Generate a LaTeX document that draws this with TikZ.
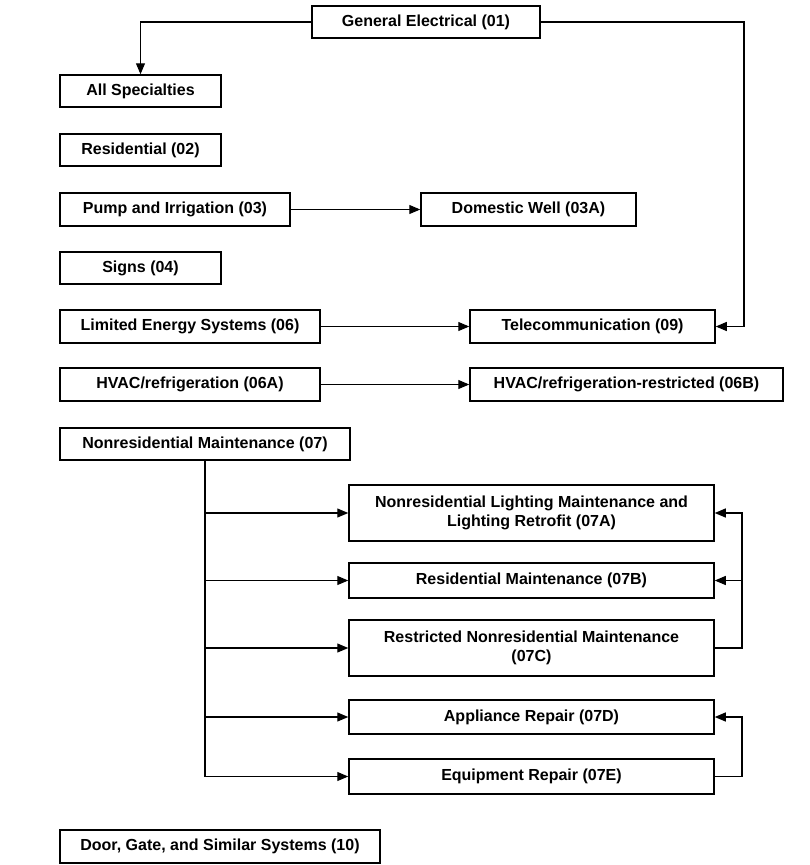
\documentclass[tikz,border=0pt]{standalone}
\usepackage{fontspec}
\setmainfont{Liberation Sans}
\usetikzlibrary{arrows.meta}
\begin{document}
\begin{tikzpicture}[x=1pt,y=-1pt,
  box/.style={draw=black, line width=1.5pt, rectangle, inner sep=0pt, align=center,
    font=\fontsize{16}{19.5}\selectfont\bfseries},
  arr/.style={draw=black, line width=1.1pt, -{Triangle[length=11pt,width=9pt]}},
  ln/.style={draw=black, line width=1.1pt}]
\useasboundingbox (0,0) rectangle (809,865);
\node[box, minimum width=228pt, minimum height=32pt] (ge) at (426,22) {General Electrical (01)};
\node[box, minimum width=161pt, minimum height=32pt] (all) at (140.5,91) {All Specialties};
\node[box, minimum width=161pt, minimum height=32pt] (res) at (140.5,150) {Residential (02)};
\node[box, minimum width=230pt, minimum height=33pt] (pump) at (175,209.5) {Pump and Irrigation (03)};
\node[box, minimum width=215pt, minimum height=33pt] (well) at (528.5,209.5) {Domestic Well (03A)};
\node[box, minimum width=161pt, minimum height=32pt] (signs) at (140.5,268) {Signs (04)};
\node[box, minimum width=260pt, minimum height=33pt] (les) at (190,326.5) {Limited Energy Systems (06)};
\node[box, minimum width=245pt, minimum height=33pt] (tel) at (592.5,326.5) {Telecommunication (09)};
\node[box, minimum width=260pt, minimum height=33pt] (hvac) at (190,384.5) {HVAC/refrigeration (06A)};
\node[box, minimum width=313pt, minimum height=33pt] (hvacr) at (626.5,384.5) {HVAC/refrigeration-restricted (06B)};
\node[box, minimum width=290pt, minimum height=32pt] (nrm) at (205,444) {Nonresidential Maintenance (07)};
\node[box, minimum width=365pt, minimum height=56pt] (a) at (531.5,513) {Nonresidential Lighting Maintenance and\\Lighting Retrofit (07A)};
\node[box, minimum width=365pt, minimum height=35pt] (b) at (531.5,580.5) {Residential Maintenance (07B)};
\node[box, minimum width=365pt, minimum height=56pt] (c) at (531.5,648) {Restricted Nonresidential Maintenance\\(07C)};
\node[box, minimum width=365pt, minimum height=34pt] (d) at (531.5,717) {Appliance Repair (07D)};
\node[box, minimum width=365pt, minimum height=35pt] (e) at (531.5,776.5) {Equipment Repair (07E)};
\node[box, minimum width=320pt, minimum height=33pt] (door) at (220,846.5) {Door, Gate, and Similar Systems (10)};
% connectors
\coordinate (gr) at (744,22);
\coordinate (rc) at (742,600);
\draw[arr] (ge.west) -| (all.north);
\draw[arr] (ge.east) -- (gr) |- (tel.east);
\draw[arr] (pump.east) -- (well.west);
\draw[arr] (les.east) -- (tel.west);
\draw[arr] (hvac.east) -- (hvacr.west);
\draw[arr] (nrm.south) |- (e.west);
\draw[arr] (nrm.south |- a.west) -- (a.west);
\draw[arr] (nrm.south |- b.west) -- (b.west);
\draw[arr] (nrm.south |- c.west) -- (c.west);
\draw[arr] (nrm.south |- d.west) -- (d.west);
\draw[arr] (c.east) -| (rc |- a.east) -- (a.east);
\draw[arr] (rc |- b.east) -- (b.east);
\draw[arr] (e.east) -| (rc |- d.east) -- (d.east);
\end{tikzpicture}
\end{document}
